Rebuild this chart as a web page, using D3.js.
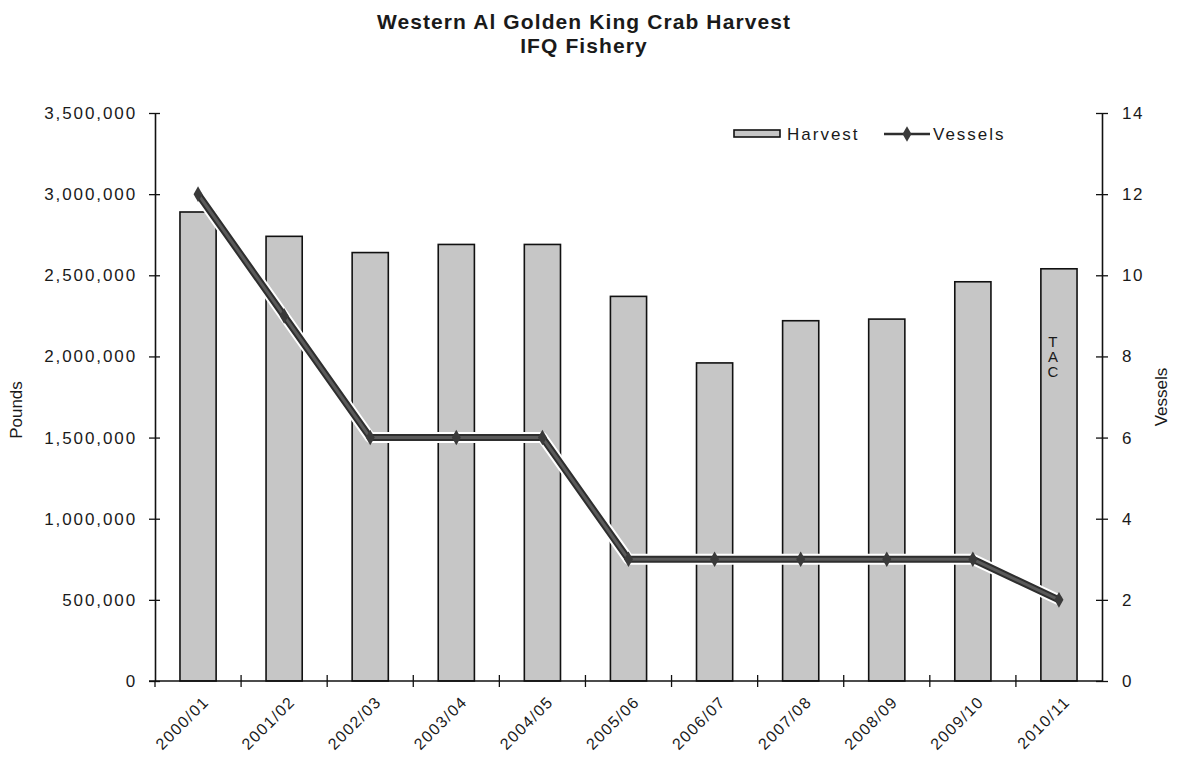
<!DOCTYPE html>
<html>
<head>
<meta charset="utf-8">
<script src="https://cdn.jsdelivr.net/npm/d3@7"></script>
<style>
  html, body { margin: 0; padding: 0; background: #ffffff; }
  text { font-family: "Liberation Sans", Arial, sans-serif; fill: #1a1a1a; }
</style>
</head>
<body>
<svg id="chart" width="1183" height="760"></svg>
<script>
const categories = ["2000/01","2001/02","2002/03","2003/04","2004/05","2005/06","2006/07","2007/08","2008/09","2009/10","2010/11"];
const harvest = [2890000, 2740000, 2640000, 2690000, 2690000, 2370000, 1960000, 2220000, 2230000, 2460000, 2540000];
const vessels = [12, 9, 6, 6, 6, 3, 3, 3, 3, 3, 2];
const leftTicks = [0, 500000, 1000000, 1500000, 2000000, 2500000, 3000000, 3500000];
const rightTicks = [0, 2, 4, 6, 8, 10, 12, 14];
const titleLines = ["Western Al Golden King Crab Harvest", "IFQ Fishery"];
const tacLetters = ["T", "A", "C"];

const svg = d3.select("#chart");
const L = 155, R = 1102, T = 113, B = 681;

const x = d3.scaleBand().domain(categories).range([L, R]).padding(0);
const yL = d3.scaleLinear().domain([0, 3500000]).range([B, T]);
const yR = d3.scaleLinear().domain([0, 14]).range([B, T]);
const fmt = d3.format(",");

// Title
svg.append("g").selectAll("text").data(titleLines).join("text")
  .attr("x", 584).attr("y", (d, i) => 29 + i * 24)
  .attr("text-anchor", "middle")
  .style("font-size", "21px").style("font-weight", "bold")
  .style("letter-spacing", "1.1px")
  .text(d => d);

// Bars
const bw = x.bandwidth() * 0.42;
svg.append("g").selectAll("rect").data(categories).join("rect")
  .attr("x", (d) => x(d) + (x.bandwidth() - bw) / 2)
  .attr("y", (d, i) => yL(harvest[i]))
  .attr("width", bw)
  .attr("height", (d, i) => B - yL(harvest[i]))
  .attr("fill", "#c6c6c6")
  .attr("stroke", "#111")
  .attr("stroke-width", 1.6);

// TAC label on last bar
const lastC = categories[categories.length - 1];
svg.append("g").selectAll("text").data(tacLetters).join("text")
  .attr("x", x(lastC) + x.bandwidth() / 2 - 6)
  .attr("y", (d, i) => 347 + i * 15)
  .attr("text-anchor", "middle")
  .style("font-size", "15px")
  .text(d => d);

// Left axis
const axL = d3.axisLeft(yL).tickValues(leftTicks).tickFormat(fmt).tickSizeInner(6).tickSizeOuter(0).tickPadding(12);
const gL = svg.append("g").attr("transform", `translate(${L},0)`).call(axL);
gL.select(".domain").attr("stroke", "#111").attr("stroke-width", 1.6);
gL.selectAll(".tick line").attr("stroke", "#111").attr("stroke-width", 1.3).attr("x2", -6).attr("x1", 5);
gL.selectAll(".tick text").style("font-size", "17px").style("letter-spacing", "1.9px").attr("fill", "#1a1a1a")
  .style("font-family", "'Liberation Sans', Arial, sans-serif");

// Right axis
const axR = d3.axisRight(yR).tickValues(rightTicks).tickSizeInner(6).tickSizeOuter(0).tickPadding(14);
const gR = svg.append("g").attr("transform", `translate(${R},0)`).call(axR);
gR.select(".domain").attr("stroke", "#111").attr("stroke-width", 1.6);
gR.selectAll(".tick line").attr("stroke", "#111").attr("stroke-width", 1.3).attr("x1", -6).attr("x2", 6);
gR.selectAll(".tick text").style("font-size", "17px").style("letter-spacing", "1.5px").attr("fill", "#1a1a1a")
  .style("font-family", "'Liberation Sans', Arial, sans-serif");

// Bottom axis (ticks at category boundaries)
const boundaries = categories.map(c => x(c));
svg.append("line").attr("x1", L - 6).attr("x2", R).attr("y1", B).attr("y2", B)
  .attr("stroke", "#111").attr("stroke-width", 1.6);
svg.append("g").selectAll("line").data(boundaries.slice(1)).join("line")
  .attr("x1", d => d).attr("x2", d => d).attr("y1", B - 6).attr("y2", B + 6)
  .attr("stroke", "#111").attr("stroke-width", 1.3);
svg.append("line").attr("x1", L).attr("x2", L).attr("y1", B).attr("y2", B + 6)
  .attr("stroke", "#111").attr("stroke-width", 1.3);

// Category labels
svg.append("g").selectAll("text").data(categories).join("text")
  .attr("transform", d => {
    const cx = x(d) + x.bandwidth() / 2 + 12, cy = B + 22;
    return `translate(${cx},${cy}) rotate(-45)`;
  })
  .attr("text-anchor", "end")
  .style("font-size", "16px").style("letter-spacing", "1.4px")
  .text(d => d);

// Axis titles
svg.append("text").attr("transform", "translate(22,410) rotate(-90)")
  .attr("text-anchor", "middle").style("font-size", "17px").text("Pounds");
svg.append("text").attr("transform", "translate(1167,397) rotate(-90)")
  .attr("text-anchor", "middle").style("font-size", "17px").text("Vessels");

// Vessels line
const line = d3.line()
  .x((d, i) => x(categories[i]) + x.bandwidth() / 2)
  .y(d => yR(d));
const gLine = svg.append("g");
gLine.append("path").datum(vessels).attr("d", line)
  .attr("fill", "none").attr("stroke", "#ffffff").attr("stroke-width", 11).attr("stroke-linejoin", "round");
gLine.append("path").datum(vessels).attr("d", line)
  .attr("fill", "none").attr("stroke", "#2e2e2e").attr("stroke-width", 7).attr("stroke-linejoin", "round");
gLine.append("path").datum(vessels).attr("d", line)
  .attr("fill", "none").attr("stroke", "#5a5a5a").attr("stroke-width", 3).attr("stroke-linejoin", "round");
const diamond = d3.symbol().type(d3.symbolDiamond).size(70);
gLine.selectAll(".mk").data(vessels).join("path")
  .attr("class", "mk")
  .attr("transform", (d, i) => `translate(${x(categories[i]) + x.bandwidth() / 2},${yR(d)})`)
  .attr("d", diamond)
  .attr("fill", "#3a3a3a");

// Legend
const lg = svg.append("g");
lg.append("rect").attr("x", 734).attr("y", 130).attr("width", 46).attr("height", 7)
  .attr("fill", "#c6c6c6").attr("stroke", "#111").attr("stroke-width", 1.6);
lg.append("text").attr("x", 787).attr("y", 140).style("font-size", "17px").style("letter-spacing", "2px").text("Harvest");
lg.append("line").attr("x1", 884).attr("x2", 930).attr("y1", 134).attr("y2", 134)
  .attr("stroke", "#2e2e2e").attr("stroke-width", 2.5);
lg.append("path").attr("transform", "translate(907,134)").attr("d", diamond).attr("fill", "#3a3a3a");
lg.append("text").attr("x", 933).attr("y", 140).style("font-size", "17px").style("letter-spacing", "2px").text("Vessels");
</script>
</body>
</html>
